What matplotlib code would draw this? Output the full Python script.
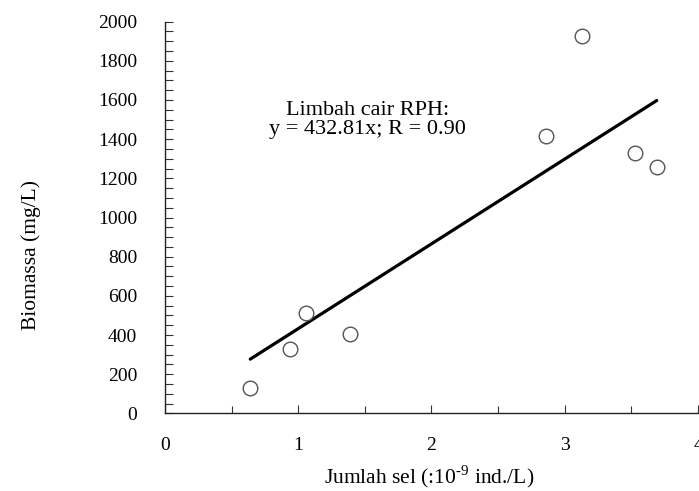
import numpy as np
import matplotlib.pyplot as plt
from matplotlib.ticker import MultipleLocator

# data
cells = [0.64, 0.94, 1.06, 1.39, 2.86, 3.13, 3.53, 3.69]       # x 10^9 ind./L
biomass = [131, 327, 511, 404, 1417, 1928, 1329, 1257]        # mg/L
slope = 432.81
fit_range = [0.64, 3.69]

plt.rcParams['font.family'] = ['Liberation Serif', 'DejaVu Serif']
plt.rcParams['mathtext.fontset'] = 'custom'
plt.rcParams['mathtext.rm'] = 'Liberation Serif'

fig = plt.figure(figsize=(6.99, 4.91), dpi=100)
ax = fig.add_axes([0.236, 0.158, 0.7626, 0.798])

xf = np.array(fit_range)
ax.plot(xf, slope * xf, color='black', lw=2.3, solid_capstyle='round')
ax.plot(cells, biomass, 'o', ms=10.5, mfc='white', mec='#555555', mew=1.0)

ax.text(1.52, 1500, 'Limbah cair RPH:\ny = 432.81x; R = 0.90',
        ha='center', va='center', fontsize=16, linespacing=1.0)

ax.set_xlim(0, 4)
ax.set_ylim(0, 2000)
ax.xaxis.set_major_locator(MultipleLocator(1))
ax.xaxis.set_minor_locator(MultipleLocator(0.5))
ax.yaxis.set_major_locator(MultipleLocator(200))
ax.yaxis.set_minor_locator(MultipleLocator(50))
ax.tick_params(axis='both', which='both', direction='in', labelsize=14,
               length=6, width=0.8, color='#333333')
ax.tick_params(axis='x', which='both', pad=17)
ax.tick_params(axis='y', which='both', pad=20)
ax.tick_params(axis='x', which='minor', length=5)

ax.spines['top'].set_visible(False)
ax.spines['right'].set_visible(False)
for s in ['left', 'bottom']:
    ax.spines[s].set_linewidth(1.0)
    ax.spines[s].set_color('#222222')

ax.set_xlabel('Jumlah sel (:10$^{\\mathrm{\u20109}}$ ind./L)', fontsize=15.5)
ax.set_ylabel('Biomassa (mg/L)', fontsize=15.5)
ax.xaxis.set_label_coords(0.495, -0.128)
ax.yaxis.set_label_coords(-0.233, 0.404)

fig.savefig('out.png', dpi=100)
